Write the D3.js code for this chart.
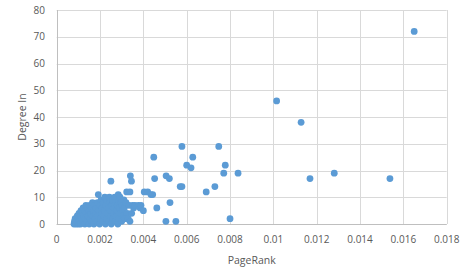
<!DOCTYPE html>
<html><head><meta charset="utf-8">
<script src="https://cdn.jsdelivr.net/npm/d3@7"></script>
<style>body{margin:0;background:#fff}svg{display:block}</style>
</head><body>
<script>
const pageRank = [0.0008,0.00082,0.00085,0.0009,0.00092,0.00095,0.001,0.001,0.00103,0.00105,0.0011,0.0011,0.00112,0.00115,0.0012,0.0012,0.00122,0.00125,0.0013,0.0013,0.00132,0.00135,0.00138,0.0014,0.00142,0.00145,0.0015,0.0015,0.00152,0.00155,0.00158,0.0016,0.00162,0.00165,0.00168,0.0017,0.00172,0.00175,0.00178,0.0018,0.00182,0.00185,0.00188,0.0019,0.00192,0.00195,0.00198,0.002,0.00202,0.00205,0.00208,0.0021,0.00212,0.00215,0.00218,0.0022,0.00222,0.00225,0.00228,0.0023,0.00232,0.00235,0.00238,0.0024,0.00243,0.00245,0.00248,0.0025,0.0025,0.00252,0.00255,0.00258,0.0026,0.00262,0.00265,0.00268,0.0027,0.00272,0.00275,0.00278,0.0028,0.00282,0.00284,0.00285,0.00288,0.0029,0.00292,0.00295,0.00298,0.003,0.00302,0.00305,0.00308,0.0031,0.00312,0.00315,0.0032,0.00323,0.00325,0.0033,0.00334,0.00338,0.00338,0.0034,0.00345,0.00346,0.0035,0.00355,0.00361,0.00377,0.00385,0.00389,0.004,0.00404,0.0042,0.00435,0.00443,0.00448,0.00452,0.00462,0.00505,0.00504,0.0052,0.00523,0.0055,0.0057,0.00578,0.00578,0.006,0.0062,0.00628,0.0069,0.0073,0.00748,0.00771,0.00778,0.008,0.00837,0.01015,0.01128,0.01169,0.01281,0.01538,0.0165];
const degreeIn = [0,1,2,0,1,3,2,0,4,1,3,0,5,2,4,1,6,3,0,5,2,7,4,1,6,3,0,5,7,2,4,6,1,8,3,5,0,7,2,4,6,1,8,3,11,5,0,7,2,9,4,6,1,8,3,5,10,0,7,2,9,4,6,1,10,8,3,5,16,0,7,9,2,4,6,10,1,8,3,5,7,0,11,9,2,6,10,4,8,1,7,5,3,9,6,2,8,12,4,2,7,12,1,18,16,4,7,6,7,7,6,7,5,12,12,11,11,25,17,6,18,1,17,8,1,14,14,29,22,21,25,12,14,29,19,22,2,19,46,38,17,19,17,72];
const xTicks = [0,0.002,0.004,0.006,0.008,0.01,0.012,0.014,0.016,0.018];
const yTicks = [0,10,20,30,40,50,60,70,80];
const xTitle = "PageRank", yTitle = "Degree In";

const W = 471, H = 278;
const m = {left:56.7, right:471-446.7, top:10, bottom:278-224};
const svg = d3.select("body").append("svg").attr("width",W).attr("height",H);
const x = d3.scaleLinear().domain([0,0.018]).range([m.left, W-m.right]);
const y = d3.scaleLinear().domain([0,80]).range([H-m.bottom, m.top]);
const font = "'Open Sans', sans-serif";

svg.append("g").selectAll("line").data(yTicks).join("line")
  .attr("x1",x(0)).attr("x2",x(0.018)).attr("y1",d=>Math.round(y(d))+0.5).attr("y2",d=>Math.round(y(d))+0.5)
  .attr("stroke","#d9d9d9").attr("stroke-width",1);
svg.append("g").selectAll("line").data(xTicks).join("line")
  .attr("y1",y(0)).attr("y2",y(80)).attr("x1",d=>Math.round(x(d))+0.5).attr("x2",d=>Math.round(x(d))+0.5)
  .attr("stroke","#d9d9d9").attr("stroke-width",1);
// axis lines
svg.append("line").attr("x1",x(0)).attr("x2",x(0.018)).attr("y1",Math.round(y(0))+0.5).attr("y2",Math.round(y(0))+0.5).attr("stroke","#bfbfbf");
svg.append("line").attr("x1",Math.round(x(0))+0.5).attr("x2",Math.round(x(0))+0.5).attr("y1",y(0)).attr("y2",y(80)).attr("stroke","#bfbfbf");

svg.append("g").selectAll("text").data(yTicks).join("text")
  .attr("x",45).attr("y",d=>y(d)+3.6).attr("text-anchor","end")
  .attr("font-family",font).attr("font-size",10).attr("fill","#595959").text(d=>d);
svg.append("g").selectAll("text").data(xTicks).join("text")
  .attr("x",d=>x(d)).attr("y",243).attr("text-anchor","middle")
  .attr("font-family",font).attr("font-size",10).attr("fill","#595959").text(d=>d);

svg.append("text").attr("x",(x(0)+x(0.018))/2).attr("y",264).attr("text-anchor","middle")
  .attr("font-family",font).attr("font-size",10.5).attr("fill","#595959").text(xTitle);
svg.append("text").attr("transform",`translate(26,${(y(0)+y(80))/2}) rotate(-90)`).attr("text-anchor","middle")
  .attr("font-family",font).attr("font-size",10.5).attr("fill","#595959").text(yTitle);

svg.append("g").selectAll("circle").data(pageRank.map((p,i)=>[p,degreeIn[i]])).join("circle")
  .attr("cx",d=>x(d[0])).attr("cy",d=>y(d[1])).attr("r",3.4).attr("fill","#5b9bd5");
</script>
</body></html>
